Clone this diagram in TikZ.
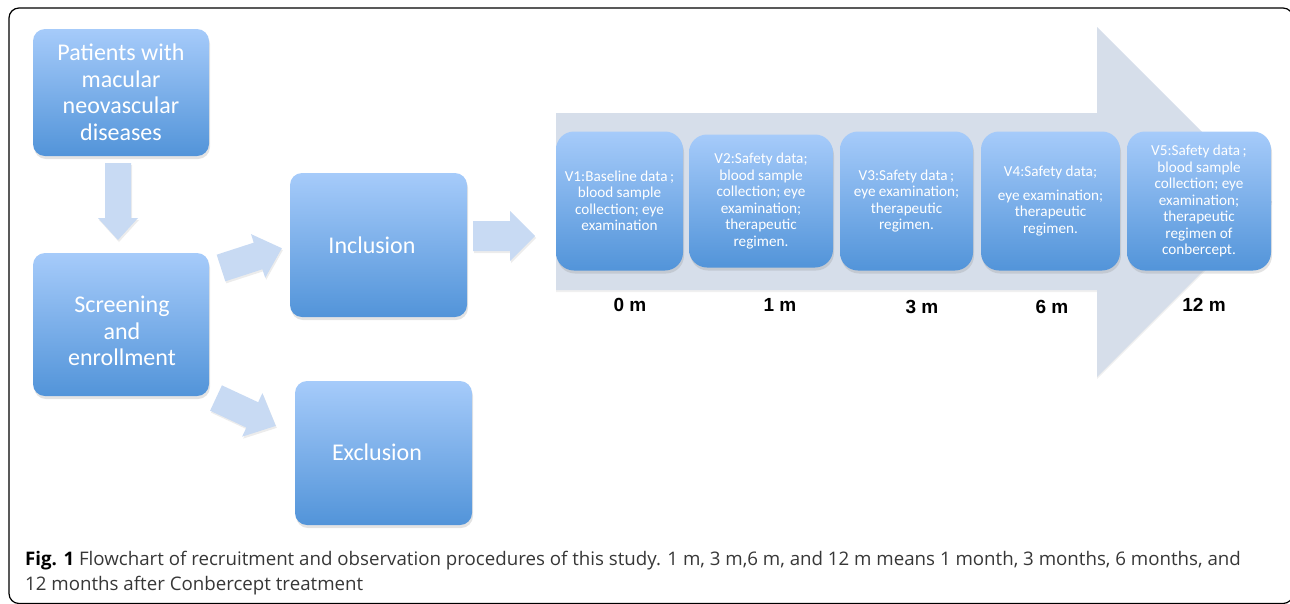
\documentclass[tikz,border=0pt]{standalone}
\usepackage{fontspec}
\setmainfont{Carlito}
\newfontfamily\capfont{Open Sans}
\newfontfamily\lblfont{Liberation Sans}
\usetikzlibrary{shadows}
\definecolor{boxtop}{RGB}{166,203,250}
\definecolor{boxbot}{RGB}{82,148,217}
\definecolor{arrfill}{RGB}{200,218,243}
\definecolor{bigarr}{RGB}{214,222,234}
\definecolor{captext}{RGB}{55,55,55}
\newcommand{\semi}{\kern2.5pt;}
\newcommand{\blockarr}[7]{%
  \begin{scope}[shift={(#1,#2)}, rotate=#3]
    \fill[arrfill, drop shadow={shadow xshift=1pt, shadow yshift=-2pt, opacity=0.15}]
      (0,-#5) -- ({#4-#7},-#5) -- ({#4-#7},-#6) -- (#4,0) -- ({#4-#7},#6) -- ({#4-#7},#5) -- (0,#5) -- cycle;
  \end{scope}}
\tikzset{
  bluebox/.style={rounded corners=12pt, top color=boxtop, bottom color=boxbot, draw=none,
    text=white, align=center, inner sep=0pt, font=\fontsize{24}{26.5}\selectfont,
    drop shadow={shadow xshift=1pt, shadow yshift=-3pt, opacity=0.22}},
  boxtext/.style={text=white, align=center, inner sep=0pt, font=\fontsize{24}{26.5}\selectfont},
  vbox/.style={bluebox, rounded corners=18pt, font=\fontsize{15.2}{16.5}\selectfont},
  tlabel/.style={font=\lblfont\bfseries\fontsize{19}{22}\selectfont, inner sep=0pt},
  capline/.style={anchor=base west, inner sep=0pt, text=captext, font=\capfont\fontsize{18.7}{22}\selectfont},
}
\begin{document}
\begin{tikzpicture}[x=1pt, y=-1pt]
\useasboundingbox (0,0) rectangle (1290,603);
% frame
\draw[line width=1.2pt, rounded corners=10pt] (9,8) rectangle (1293,603.5);
% big timeline arrow
\fill[bigarr, drop shadow={shadow xshift=0pt, shadow yshift=-2pt, opacity=0.12}]
  (556,113) -- (1097,113) -- (1097,27) -- (1272,202) -- (1097,377) -- (1097,290) -- (556,290) -- cycle;
% left boxes
\node[bluebox, minimum width=176pt, minimum height=127pt] (pat) at (121,92.5)
  {Patients with\\macular\\neovascular\\diseases};
\node[bluebox, minimum width=176pt, minimum height=143pt] (scr) at (121,324.5) {};
\node[boxtext] (scrtext) at (122,331) {Screening\\and\\enrollment};
\node[bluebox, minimum width=177pt, minimum height=144pt] (inc) at (378.5,245) {};
\node[boxtext] (inctext) at (372,245) {Inclusion};
\node[bluebox, minimum width=177pt, minimum height=144pt] (exc) at (383.5,453) {};
\node[boxtext] (exctext) at (377,452) {Exclusion};
% block arrows
\blockarr{118}{163}{-90}{77}{13}{20}{22}
\blockarr{221}{268}{18}{64}{14}{23}{25}
\blockarr{216}{398}{-25}{66}{14}{24}{26}
\blockarr{473}{236}{0}{62}{15}{25}{25}
% visit boxes
\node[vbox, minimum width=127pt, minimum height=139pt] (v1) at (619.5,201)
  {V1:Baseline data\semi\\blood sample\\collection; eye\\examination};
\node[vbox, minimum width=144pt, minimum height=133pt] (v2) at (761,201)
  {V2:Safety data;\\blood sample\\collection; eye\\examination;\\therapeutic\\regimen.};
\node[vbox, minimum width=133pt, minimum height=139pt] (v3) at (906.5,201)
  {V3:Safety data\semi\\eye examination;\\therapeutic\\regimen.};
\node[vbox, minimum width=139pt, minimum height=139pt] (v4) at (1050.5,201)
  {V4:Safety data;\\[7pt]eye examination;\\therapeutic\\regimen.};
\node[vbox, minimum width=144pt, minimum height=139pt] (v5) at (1199,201)
  {V5:Safety data\semi\\blood sample\\collection; eye\\examination;\\therapeutic\\regimen of\\conbercept.};
% time labels
\node[tlabel] (m0) at (630,305) {0 m};
\node[tlabel] (m1) at (780,305) {1 m};
\node[tlabel] (m3) at (922,307) {3 m};
\node[tlabel] (m6) at (1052,307) {6 m};
\node[tlabel] (m12) at (1204,305) {12 m};
% caption
\node[capline] (cap1) at (25,565) {{\color{black}\bfseries Fig. 1} Flowchart of recruitment and observation procedures of this study. 1 m, 3 m,6 m, and 12 m means 1 month, 3 months, 6 months, and};
\node[capline] (cap2) at (25,590) {12 months after Conbercept treatment};
\end{tikzpicture}
\end{document}
